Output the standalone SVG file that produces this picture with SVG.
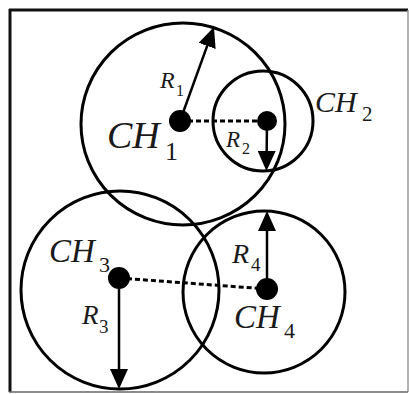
<svg xmlns="http://www.w3.org/2000/svg" width="409" height="394" viewBox="0 0 409 394">
<style>
.ring{fill:none;stroke:#000;stroke-width:3}
.dot{fill:#000}
.arr{stroke:#000;stroke-width:2.5;fill:none;marker-end:url(#ah)}
.dash{stroke:#000;stroke-width:3;stroke-dasharray:5 3;fill:none}
.big{font-family:"Liberation Serif",serif;font-style:italic;fill:#1a1a1a}
.sub{font-family:"Liberation Serif",serif;fill:#1a1a1a}
</style>
<defs>
<marker id="ah" markerUnits="userSpaceOnUse" markerWidth="20" markerHeight="18" refX="16" refY="9" orient="auto">
<path d="M0,0 L20,9 L0,18 z" fill="#000"/>
</marker>
</defs>
<rect x="0" y="0" width="409" height="394" fill="#fff"/>
<g id="frame">
<line x1="9" y1="10" x2="408" y2="10" stroke="#111" stroke-width="3"/>
<line x1="10" y1="9" x2="10" y2="392" stroke="#111" stroke-width="3"/>
<line x1="408" y1="10" x2="408" y2="392" stroke="#999" stroke-width="1.5"/>
<line x1="9" y1="392" x2="408" y2="392" stroke="#666" stroke-width="1.5"/>
</g>
<g id="connectors">
<line class="dash" x1="180" y1="121" x2="267" y2="121"/>
<line class="dash" x1="119" y1="278" x2="267" y2="289"/>
<line class="arr" x1="180" y1="121" x2="212.6" y2="30.8"/>
<line class="arr" x1="267" y1="121" x2="266.5" y2="167"/>
<line class="arr" x1="119" y1="278" x2="119" y2="385"/>
<line class="arr" x1="267" y1="289" x2="267" y2="215"/>
</g>
<g id="CH1">
<ellipse class="ring" cx="183" cy="124" rx="102" ry="101"/>
<circle class="dot" cx="180" cy="121" r="11"/>
<text class="big" x="107" y="148" font-size="38">CH</text>
<text class="sub" x="165" y="160" font-size="26">1</text>
<text class="big" x="160" y="88" font-size="24">R</text>
<text class="sub" x="176" y="96" font-size="16">1</text>
</g>
<g id="CH2">
<circle class="ring" cx="263" cy="121" r="50"/>
<circle class="dot" cx="267" cy="121" r="10"/>
<text class="big" x="315" y="112" font-size="30">CH</text>
<text class="sub" x="362" y="121" font-size="21">2</text>
<text class="big" x="226" y="147" font-size="23">R</text>
<text class="sub" x="242" y="154" font-size="16">2</text>
</g>
<g id="CH3">
<circle class="ring" cx="120" cy="290" r="99"/>
<circle class="dot" cx="119" cy="278" r="11"/>
<text class="big" x="49" y="262" font-size="33">CH</text>
<text class="sub" x="99" y="272" font-size="22">3</text>
<text class="big" x="82" y="324" font-size="27">R</text>
<text class="sub" x="99" y="333" font-size="19">3</text>
</g>
<g id="CH4">
<circle class="ring" cx="264" cy="292" r="81"/>
<circle class="dot" cx="267" cy="289" r="11"/>
<text class="big" x="234" y="328" font-size="33">CH</text>
<text class="sub" x="284" y="338" font-size="22">4</text>
<text class="big" x="232" y="263" font-size="28">R</text>
<text class="sub" x="251" y="271" font-size="19">4</text>
</g>
</svg>
